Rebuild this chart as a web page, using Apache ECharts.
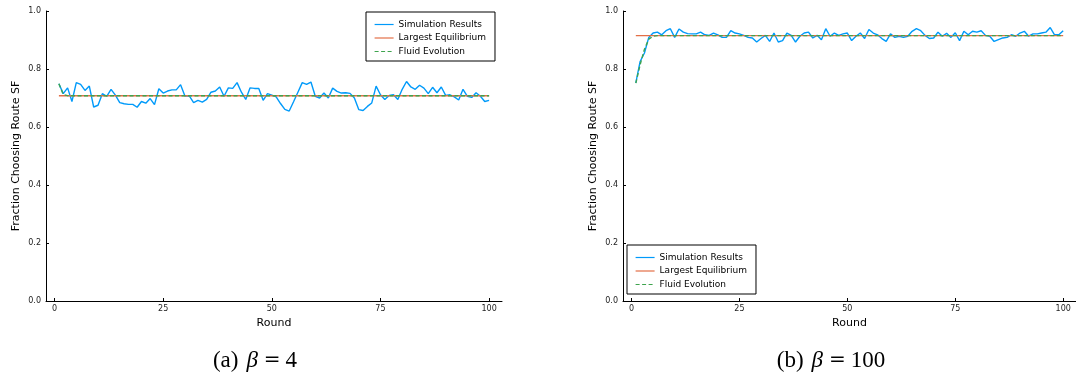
<!DOCTYPE html>
<html>
<head>
<meta charset="utf-8">
<script src="https://cdn.jsdelivr.net/npm/echarts@6/dist/echarts.min.js"></script>
<style>
html,body{margin:0;padding:0;background:#fff;}
#c{width:1076px;height:381px;}
</style>
</head>
<body>
<div id="c"></div>
<script>
// ---- data ----
const xTicks = [0, 25, 50, 75, 100];
const yTicks = [0, 0.2, 0.4, 0.6, 0.8, 1.0];
const seriesNames = ['Simulation Results', 'Largest Equilibrium', 'Fluid Evolution'];
const captionA = '(a)';
const captionB = '(b)';
const betaA = '4';
const betaB = '100';

// beta = 4 : simulation results for rounds 1..100
const simA = [
  0.749, 0.715, 0.735, 0.688, 0.753, 0.747, 0.726, 0.741, 0.669, 0.675,
  0.715, 0.706, 0.730, 0.710, 0.684, 0.680, 0.678, 0.678, 0.668, 0.688,
  0.682, 0.698, 0.677, 0.732, 0.717, 0.724, 0.728, 0.728, 0.746, 0.707,
  0.707, 0.684, 0.692, 0.686, 0.695, 0.720, 0.724, 0.738, 0.706, 0.735,
  0.733, 0.753, 0.720, 0.695, 0.735, 0.733, 0.733, 0.692, 0.715, 0.710,
  0.704, 0.681, 0.661, 0.655, 0.687, 0.720, 0.753, 0.747, 0.755, 0.706,
  0.700, 0.717, 0.700, 0.734, 0.723, 0.717, 0.718, 0.716, 0.700, 0.660,
  0.657, 0.671, 0.683, 0.741, 0.711, 0.695, 0.709, 0.711, 0.695, 0.730,
  0.757, 0.738, 0.730, 0.744, 0.734, 0.715, 0.737, 0.718, 0.738, 0.709,
  0.711, 0.704, 0.693, 0.730, 0.706, 0.702, 0.718, 0.706, 0.688, 0.692
];
const eqA = 0.708;
const fluidEarlyA = [0.749, 0.712, 0.708];   // rounds 1..3
const fluidSteadyA = 0.708;                  // value at round 100

// beta = 100 : simulation results for rounds 1..100
const simB = [
  0.752, 0.826, 0.855, 0.909, 0.924, 0.927, 0.918, 0.932, 0.939, 0.909,
  0.938, 0.927, 0.922, 0.921, 0.921, 0.927, 0.918, 0.916, 0.924, 0.918,
  0.909, 0.909, 0.932, 0.924, 0.921, 0.916, 0.909, 0.907, 0.893, 0.905,
  0.916, 0.895, 0.924, 0.893, 0.898, 0.924, 0.916, 0.893, 0.913, 0.924,
  0.927, 0.907, 0.916, 0.901, 0.939, 0.913, 0.924, 0.916, 0.921, 0.924,
  0.898, 0.913, 0.924, 0.905, 0.936, 0.924, 0.918, 0.905, 0.895, 0.921,
  0.909, 0.913, 0.909, 0.913, 0.930, 0.939, 0.932, 0.916, 0.905, 0.907,
  0.927, 0.913, 0.923, 0.909, 0.925, 0.898, 0.930, 0.918, 0.930, 0.927,
  0.932, 0.916, 0.913, 0.895, 0.901, 0.907, 0.909, 0.918, 0.913, 0.924,
  0.930, 0.913, 0.921, 0.921, 0.924, 0.927, 0.943, 0.918, 0.918, 0.932
];
const eqB = 0.915;
const fluidEarlyB = [0.751, 0.815, 0.868, 0.903, 0.913, 0.915]; // rounds 1..6
const fluidSteadyB = 0.915;

const firstRound = 1;
const lastRound = 100;

// ---- build ----
function pairs(vals) { return vals.map((v, i) => [firstRound + i, v]); }
function fluid(early, steady) { return pairs(early).concat([[lastRound, steady]]); }
function flat(v) { return [[firstRound, v], [lastRound, v]]; }

const BLUE = '#009AFA', ORANGE = '#E36F47', GREEN = '#3EA44E';
const FONT = 'DejaVu Sans';

function xAxis(gi) {
  return {
    type: 'value', gridIndex: gi, min: -1.97, max: 102.97,
    name: 'Round', nameLocation: 'middle', nameGap: 17,
    nameTextStyle: { fontFamily: FONT, fontSize: 11, color: '#000' },
    axisLine: { show: true, onZero: false, lineStyle: { color: '#000', width: 1 } },
    axisTick: { show: true, inside: true, length: 3, customValues: xTicks, lineStyle: { color: '#000' } },
    axisLabel: { customValues: xTicks, fontFamily: FONT, fontSize: 8, color: '#222', margin: 4 },
    splitLine: { show: false }
  };
}
function yAxis(gi) {
  return {
    type: 'value', gridIndex: gi, min: 0, max: 1,
    name: 'Fraction Choosing Route SF', nameLocation: 'middle', nameGap: 24, nameRotate: 90,
    nameTextStyle: { fontFamily: FONT, fontSize: 11, color: '#000' },
    axisLine: { show: true, onZero: false, lineStyle: { color: '#000', width: 1 } },
    axisTick: { show: true, inside: true, length: 3, customValues: yTicks, lineStyle: { color: '#000' } },
    axisLabel: { customValues: yTicks, fontFamily: FONT, fontSize: 8, color: '#222', margin: 5,
      formatter: v => Number(v).toFixed(1) },
    splitLine: { show: false }
  };
}
function lineSeries(name, gi, data, color, dashed) {
  return {
    name: name, type: 'line', xAxisIndex: gi, yAxisIndex: gi, data: data,
    symbol: 'none', showSymbol: false, smooth: false,
    lineStyle: { color: color, width: 1.4, type: dashed ? [4, 2.5] : 'solid' },
    itemStyle: { color: color },
    emphasis: { disabled: true }
  };
}
function legend(left, top) {
  return {
    show: true, orient: 'vertical', left: left, top: top,
    data: seriesNames, itemWidth: 19, itemHeight: 9, itemGap: 4.5,
    padding: [8, 9, 5, 8], borderColor: '#000', borderWidth: 1, backgroundColor: '#fff',
    itemStyle: { color: 'rgba(0,0,0,0)', borderColor: 'rgba(0,0,0,0)', borderWidth: 0, opacity: 0 },
    lineStyle: { width: 1.2 },
    textStyle: { fontFamily: FONT, fontSize: 9, color: '#000' },
    selectedMode: false
  };
}

const capStyle = {
  fill: '#000', font: '23px "Liberation Serif"', align: 'center', verticalAlign: 'middle',
  rich: {
    i: { fontStyle: 'italic', fontFamily: 'Liberation Serif', fontSize: 23, padding: [0, 3, 0, 8] },
    e: { fontFamily: 'DejaVu Serif', fontSize: 20, padding: [0, 5, 0, 3] }
  }
};

const chart = echarts.init(document.getElementById('c'), null, { renderer: 'canvas' });
chart.setOption({
  animation: false,
  backgroundColor: '#fff',
  grid: [
    { left: 46, top: 11, width: 456, height: 290 },
    { left: 623, top: 11, width: 456, height: 290 }
  ],
  xAxis: [xAxis(0), xAxis(1)],
  yAxis: [yAxis(0), yAxis(1)],
  legend: [legend(366, 12), legend(627, 245)],
  series: [
    lineSeries(seriesNames[0], 0, pairs(simA), BLUE, false),
    lineSeries(seriesNames[1], 0, flat(eqA), ORANGE, false),
    lineSeries(seriesNames[2], 0, fluid(fluidEarlyA, fluidSteadyA), GREEN, true),
    lineSeries(seriesNames[0], 1, pairs(simB), BLUE, false),
    lineSeries(seriesNames[1], 1, flat(eqB), ORANGE, false),
    lineSeries(seriesNames[2], 1, fluid(fluidEarlyB, fluidSteadyB), GREEN, true)
  ],
  graphic: [
    { type: 'text', x: 255, y: 361, z: 100,
      style: Object.assign({ text: captionA + '{i|β}{e|=}' + betaA }, capStyle) },
    { type: 'text', x: 831, y: 361, z: 100,
      style: Object.assign({ text: captionB + '{i|β}{e|=}' + betaB }, capStyle) }
  ]
});
</script>
</body>
</html>
